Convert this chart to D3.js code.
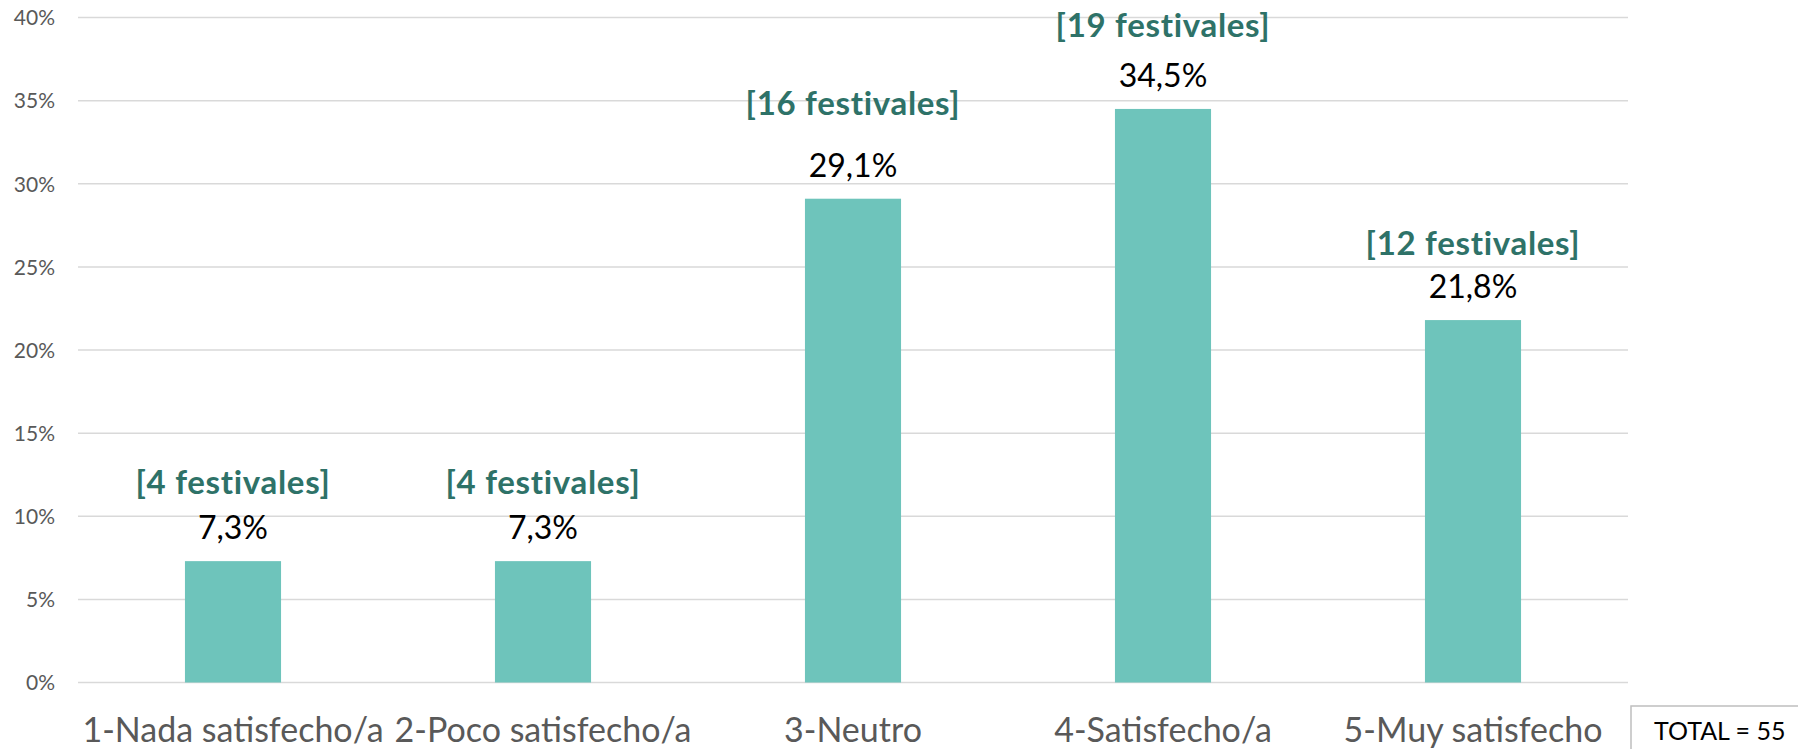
<!DOCTYPE html>
<html>
<head>
<meta charset="utf-8">
<script src="https://cdn.jsdelivr.net/npm/d3@7"></script>
<style>
	body { margin: 0; background: #fff; }
	svg { display: block; font-family: Lato, "Open Sans", sans-serif; }
</style>
</head>
<body>
<div class="chart"></div>
<script>
var width = 1798;
var height = 749;

// datos
var categorias = ["1-Nada satisfecho/a", "2-Poco satisfecho/a", "3-Neutro", "4-Satisfecho/a", "5-Muy satisfecho"];
var porcentajes = [7.3, 7.3, 29.1, 34.5, 21.8];
var festivales = [4, 4, 16, 19, 12];
var ticksY = [0, 5, 10, 15, 20, 25, 30, 35, 40];
var total = 55;

// separacion (px) entre etiqueta de valor y etiqueta de festivales, como en el original
var sepFestivales = [45, 45, 62, 50, 43];

var margin = {left: 78, right: 170, top: 17.5, bottom: 66.5};

var svg = d3.select("body").select(".chart").append("svg")
	.attr("width", width)
	.attr("height", height);

var x = d3.scaleBand()
	.domain(categorias)
	.range([margin.left, width - margin.right])
	.paddingInner(0.69)
	.paddingOuter(0.345);

var y = d3.scaleLinear()
	.domain([0, 40])
	.range([height - margin.bottom, margin.top]);

// rejilla
svg.append("g")
	.selectAll("line")
	.data(ticksY)
	.enter().append("line")
		.attr("x1", margin.left)
		.attr("x2", width - margin.right)
		.attr("y1", function(d){ return y(d); })
		.attr("y2", function(d){ return y(d); })
		.attr("stroke", "#d9d9d9")
		.attr("stroke-width", 1.5);

// eje y
var yAxis = d3.axisLeft(y)
	.tickValues(ticksY)
	.tickSize(0)
	.tickPadding(23)
	.tickFormat(function(d){ return d + "%"; });

svg.append("g")
	.attr("transform", "translate(" + margin.left + ",0)")
	.call(yAxis)
	.call(function(g){ g.select(".domain").remove(); })
	.selectAll("text")
		.attr("fill", "#595959")
		.attr("font-size", 21)
		.attr("font-family", "Lato, sans-serif")
		.attr("dy", "0.35em");

// eje x
var xAxis = d3.axisBottom(x)
	.tickSize(0)
	.tickPadding(0);

svg.append("g")
	.attr("transform", "translate(0," + y(0) + ")")
	.call(xAxis)
	.call(function(g){ g.select(".domain").remove(); })
	.selectAll("text")
		.attr("fill", "#595959")
		.attr("font-size", 34)
		.attr("font-family", "Lato, sans-serif")
		.attr("dy", 0)
		.attr("y", 59);

// barras
svg.append("g")
	.selectAll("rect")
	.data(porcentajes)
	.enter().append("rect")
		.attr("x", function(d, i){ return x(categorias[i]); })
		.attr("width", x.bandwidth())
		.attr("y", function(d){ return y(d); })
		.attr("height", function(d){ return y(0) - y(d); })
		.attr("fill", "#6ec4bb");

// etiquetas de valor
svg.append("g")
	.selectAll("text")
	.data(porcentajes)
	.enter().append("text")
		.attr("x", function(d, i){ return x(categorias[i]) + x.bandwidth() / 2; })
		.attr("y", function(d){ return y(d) - 22; })
		.attr("text-anchor", "middle")
		.attr("font-size", 32)
		.attr("fill", "#000")
		.text(function(d){ return d.toFixed(1).replace(".", ",") + "%"; });

// etiquetas de festivales
svg.append("g")
	.selectAll("text")
	.data(festivales)
	.enter().append("text")
		.attr("x", function(d, i){ return x(categorias[i]) + x.bandwidth() / 2; })
		.attr("y", function(d, i){ return y(porcentajes[i]) - 22 - sepFestivales[i]; })
		.attr("text-anchor", "middle")
		.attr("font-size", 33)
		.attr("font-weight", "bold")
		.attr("letter-spacing", 0.7)
		.attr("fill", "#2e7268")
		.text(function(d){ return "[" + d + " festivales]"; });

// caja total
svg.append("rect")
	.attr("x", 1631)
	.attr("y", 706)
	.attr("width", 200)
	.attr("height", 60)
	.attr("fill", "#fff")
	.attr("stroke", "#bfbfbf")
	.attr("stroke-width", 1.5);

svg.append("text")
	.attr("x", 1654)
	.attr("y", 740)
	.attr("font-size", 25)
	.attr("fill", "#000")
	.text("TOTAL = " + total);
</script>
</body>
</html>
